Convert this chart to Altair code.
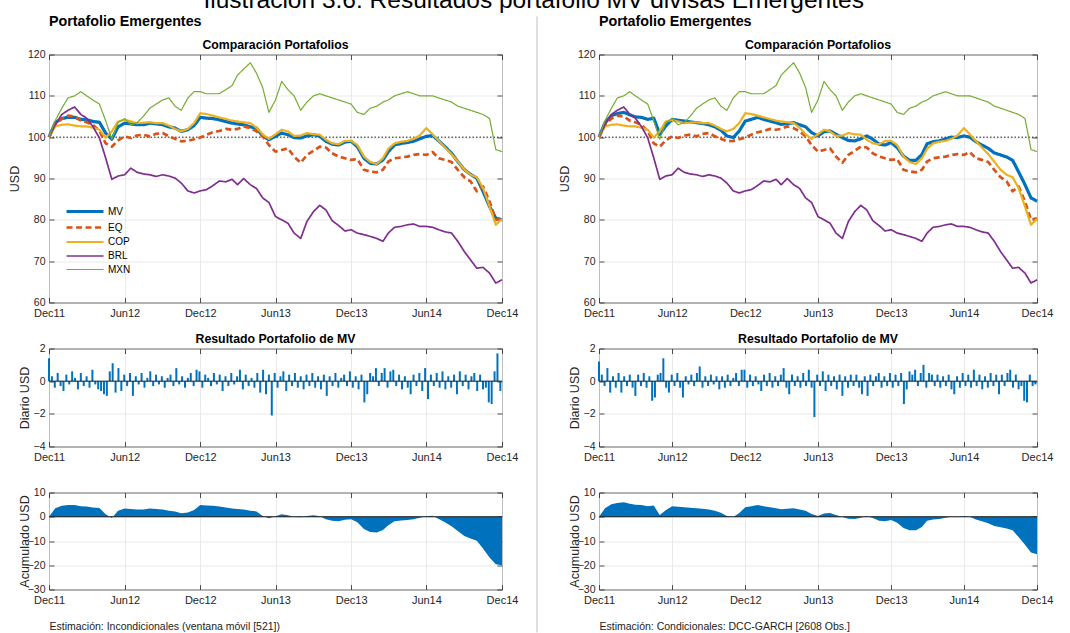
import altair as alt
import pandas as pd

# ---------------------------------------------------------------------------
# Datos
# ---------------------------------------------------------------------------
INICIO = "2011-12-01"
SERIES = ["MV", "EQ", "COP", "BRL", "MXN"]
COLORES = ["#0072BD", "#D95319", "#EDB120", "#7E2F8E", "#77AC30"]
ANCHOS = [3.2, 1.2, 1.2, 1.2, 1.2]
TRAZOS = [[1, 0], [6, 3.5], [1, 0], [1, 0], [1, 0]]
ETIQUETAS_X = [(2011, 12), (2012, 6), (2012, 12), (2013, 6), (2013, 12), (2014, 6), (2014, 12)]
NIVEL_BASE = [100]
NIVEL_CERO = [0]

# Valores quincenales (USD), Dic-2011 a Dic-2014
MV_INCOND = [
    100, 103.5, 104.5, 104.8, 104.8, 104.3, 104.2, 103.8, 103.6, 101, 99.5, 102.5,
    103.4, 103.2, 103, 103, 103.4, 103.2, 103, 102.5, 102.2, 101.4, 101.8, 102.8,
    104.8, 104.6, 104.5, 104.2, 103.8, 103.4, 103.2, 103, 102.5, 102.2, 100.3, 99.4,
    100.2, 101, 100.6, 99.9, 99.8, 100.3, 100.6, 100.2, 99, 98.3, 98.1, 98.8,
    99, 97.7, 94.9, 93.7, 93.5, 94.5, 96.5, 98.1, 98.5, 98.7, 99, 99.6,
    100.2, 100.4, 99.1, 97.7, 96.1, 94.1, 92.1, 91, 90.1, 86.9, 83.2, 80.4,
    80,
]
MV_COND = [
    100, 103.5, 105.2, 105.7, 106, 105.4, 104.9, 104.8, 104.3, 104.6, 100.7, 102.7,
    104.3, 104.1, 103.9, 103.7, 103.5, 103.3, 103, 102.5, 101.7, 100.3, 99.9, 101.5,
    103.9, 104.3, 104.8, 104.3, 103.9, 103.5, 103.1, 103.3, 103.5, 103, 102.5, 101.1,
    100.3, 101.3, 101.5, 100.7, 99.9, 99.2, 99.1, 99.6, 100.3, 99.5, 98.3, 98.1,
    98.7, 97.5, 95.4, 94.4, 94.4, 95.8, 98.4, 98.9, 99.1, 99.6, 100, 99.9,
    100.3, 100, 98.9, 98.1, 97.3, 96.2, 95.7, 95.2, 94.4, 91.6, 88.5, 85.3,
    84.5,
]
EQ = [
    100, 103, 104.5, 105.2, 105, 104, 103.6, 103, 101.5, 98.5, 97.7, 99.2,
    100.2, 99.8, 100.4, 100.6, 100.2, 100.8, 101, 100.2, 99.6, 99, 99.1, 99.5,
    99.9, 100.6, 101.2, 101.5, 102, 101.8, 102, 102.6, 102.2, 101.4, 100.2, 98.1,
    96.5, 96.9, 97.3, 95.3, 93.8, 95.7, 96.7, 97.7, 97.5, 96.1, 95.3, 94.9,
    94.5, 94.7, 92.1, 91.7, 91.5, 92.1, 94.1, 94.9, 95.1, 95.3, 95.7, 95.9,
    95.7, 96.4, 94.9, 94.5, 94, 92.1, 90.3, 89.3, 86.9, 88.1, 84.4, 80,
    80.4,
]
COP = [
    100, 102.6, 103, 103.1, 102.8, 102.6, 102.6, 102.3, 101.8, 99.9, 101.4, 103.8,
    104.2, 103.8, 103.4, 103.5, 103.6, 103.4, 103.4, 102.8, 102, 101.4, 102, 103.4,
    105.8, 105.6, 105.2, 104.8, 104.4, 104, 103.8, 103.6, 103.4, 102.3, 100.7, 99.6,
    100.7, 101.8, 101.4, 100.3, 100.4, 101, 100.7, 100.6, 99.4, 98.5, 98.3, 99.1,
    99.1, 98.1, 95.3, 94, 93.5, 94.9, 97.2, 98.5, 98.9, 99.1, 99.6, 100.4,
    102.2, 100.7, 99.1, 97.5, 95.9, 94.1, 92.1, 90.9, 90.3, 87.7, 83.2, 78.8,
    80.2,
]
BRL = [
    100, 103, 105.5, 106.5, 107.3, 105.5, 104.6, 102.6, 99.8, 95, 89.8, 90.6,
    90.9, 92.5, 91.5, 91.1, 90.9, 90.5, 90.9, 90.6, 90.1, 88.9, 87, 86.5,
    87, 87.3, 88.3, 89.4, 89.2, 89.8, 88.5, 90, 88.5, 87.6, 85.3, 84.2,
    80.8, 80, 79.2, 76.8, 75.5, 79.6, 82, 83.5, 82.4, 79.8, 78.6, 77.3,
    77.6, 76.8, 76.4, 76, 75.5, 74.8, 76.8, 78.2, 78.4, 78.8, 79, 78.4,
    78.4, 78.2, 77.6, 77.1, 76.8, 74.8, 72.3, 70.3, 68.3, 68.5, 67.1, 64.7,
    65.5,
]
MXN = [
    100, 104, 107, 109.5, 110, 111, 110, 109, 108, 104, 99.5, 103.5,
    104.5, 103, 103.5, 105, 107, 108, 109, 109.5, 107.5, 106.5, 109.5, 111,
    111, 110.5, 110.5, 110.5, 111.5, 112.5, 115, 116.5, 118, 115.5, 112, 106,
    109, 113.5, 111.5, 110, 106.5, 108.5, 110, 110.5, 110, 109.5, 109, 108.5,
    108, 106, 105.5, 107, 107.5, 108.5, 109, 110, 110.5, 111, 110.5, 110,
    110, 110, 109.5, 109, 108.5, 107.5, 107, 106.5, 106, 105.5, 104.5, 97,
    96.5,
]

# Resultado semanal del portafolio MV (USD)
DIARIO_INCOND = [
    1.4, 0.3, -0.4, 0.5, -0.3, -0.6, 0.4, -0.2, 0.6, 0.2, -0.5, 0.5, -0.3,
    0.3, -0.4, 0.7, -0.2, -0.5, -0.6, -0.8, -0.9, 0.6, 1.1, -0.7, 0.8, -0.6,
    0.4, -0.3, 0.5, -0.9, 0.3, -0.2, 0.5, -0.4, 0.2, 0.6, -0.3, 0.4, -0.2,
    0.3, -0.4, 0.2, 0.4, -0.3, 0.8, -0.2, 0.3, -0.4, 0.2, 0.5, -0.3, 0.7,
    0.6, -0.4, 0.4, 0.2, -0.3, 0.5, -0.2, 0.4, -0.6, 0.3, -0.3, 0.5, -0.2,
    0.3, 0.7, -0.5, 0.4, -0.3, 0.2, -0.4, 0.5, -0.7, 0.7, -0.8, 0.4, -2.1,
    0.5, -0.4, 0.3, 0.6, -0.6, 0.4, -0.3, 0.5, -0.4, 0.3, -0.5, 0.4, -0.3,
    0.5, -0.4, 0.3, -0.5, 0.4, -0.9, 0.3, -0.3, 0.5, -0.4, 0.2, 0.4, -0.3,
    0.6, -0.4, 0.3, -0.5, 0.4, -1.3, -0.8, 0.5, 0.3, 0.8, -0.3, 0.5, 0.8,
    -0.4, 0.6, 0.7, -0.3, 0.4, -0.5, 0.3, -0.4, -0.8, 0.4, -0.3, 0.5, -0.6,
    0.8, -1.1, 0.4, -0.3, 0.5, -0.4, 0.6, -0.5, 0.3, -0.4, 0.4, -0.8, 0.6,
    -0.3, 0.4, -0.5, 0.3, 0.5, -0.6, 0.4, -0.5, -0.4, -1.3, -1.4, 0.6, 1.7,
    -0.6,
]
DIARIO_COND = [
    1.2, 0.4, -0.3, 0.8, -0.7, 0.3, -0.4, 0.5, -0.7, 0.3, -0.3, 0.4, -0.4,
    -0.9, 0.4, -0.3, 0.5, -0.4, 0.3, -1.2, -1.0, 0.4, 0.5, 1.4, -0.4, -0.7,
    0.4, -0.3, 0.5, -0.4, -1.0, 0.3, -0.2, 0.4, -0.3, 0.5, 0.9, -0.4, 0.3,
    -0.3, 0.4, -0.2, 0.3, -0.5, 0.3, -0.4, 0.4, -0.3, 0.2, 0.5, -0.3, 0.7,
    0.7, -0.4, 0.4, -0.3, 0.3, -0.2, -0.6, 0.4, -0.3, 0.5, -0.4, 0.3, -0.3,
    0.4, 0.8, -0.4, -0.8, 0.4, -0.3, 0.3, -0.4, 0.5, -0.3, 0.7, -0.4, -2.2,
    0.4, -0.3, 0.6, -0.6, 0.4, -0.3, 0.3, -0.5, 0.4, -0.9, 0.3, -0.4, 0.4,
    -0.3, 0.4, -0.4, -0.8, 0.3, -0.9, 0.4, -0.3, 0.3, 0.5, -0.4, 0.3, -0.3,
    0.5, -0.4, 0.4, -0.3, 0.5, -1.4, -0.5, 0.6, 0.4, 0.7, -0.3, 0.5, 1.0,
    -0.4, 0.5, 0.4, -0.3, 0.4, -0.4, 0.3, -0.3, 0.4, -0.5, -0.8, 0.3, -0.4,
    0.5, -0.3, 0.4, -0.4, 0.7, -0.3, 0.4, -0.5, 0.3, -0.4, 0.5, -0.3, 0.4,
    -0.8, 0.4, -0.3, 0.5, 0.7, -0.4, 0.4, -0.5, -0.3, -1.2, -1.3, 0.4, -0.3,
    -0.2,
]

TITULO = "Ilustración 3.6: Resultados portafolio MV divisas Emergentes"
ENCABEZADO = "Portafolio Emergentes"
NOTA_INCOND = "Estimación: Incondicionales (ventana móvil [521])"
NOTA_COND = "Estimación: Condicionales: DCC-GARCH [2608 Obs.]"


def quincenas(n):
    fechas = []
    for i in range(n):
        k = i // 2
        anio = 2011 + (11 + k) // 12
        mes = (11 + k) % 12 + 1
        dia = 1 if i % 2 == 0 else 16
        fechas.append(f"{anio}-{mes:02d}-{dia:02d}")
    return fechas


FECHAS_Q = quincenas(len(EQ))
FECHAS_S = pd.date_range(INICIO, periods=len(DIARIO_INCOND), freq="7D").strftime("%Y-%m-%d").tolist()

AZUL = COLORES[0]
FECHAS_EJE = [alt.DateTime(year=a, month=m, date=1, utc=True) for a, m in ETIQUETAS_X]
ESCALA_X = alt.Scale(type="utc", domain=[FECHAS_EJE[0], FECHAS_EJE[-1]])
GRIS = "#262626"


def eje_abajo(**extra):
    p = dict(values=FECHAS_EJE, labelExpr="utcFormat(datum.value, '%b%y')", title=None,
             orient="bottom", tickSize=5, offset=-5, domain=False, grid=True,
             labelPadding=5, labelFlush=False, labelOverlap=False, labelFontSize=11)
    p.update(extra)
    return alt.Axis(**p)


def eje_izq(valores, titulo, pad):
    return alt.Axis(values=valores, title=titulo, orient="left", tickSize=5, offset=-5,
                    domain=False, grid=True, labelPadding=4, titlePadding=pad)


def capa_marcas(df, campo_y, valores_y, escala_y):
    # marcas de escala hacia adentro en los bordes superior y derecho
    return alt.Chart(df).mark_point(opacity=0).encode(
        x=alt.X("fecha:T", scale=ESCALA_X,
                axis=alt.Axis(values=FECHAS_EJE, orient="top", labels=False, tickSize=5,
                              offset=-5, domain=False, grid=False, title=None)),
        y=alt.Y(f"{campo_y}:Q", scale=escala_y,
                axis=alt.Axis(values=valores_y, orient="right", labels=False, tickSize=5,
                              offset=-5, domain=False, grid=False, title=None)),
    )


def titulo_panel(texto):
    return alt.Title(texto, fontSize=12.3, fontWeight="bold", color="black", offset=-2)


def panel_comparacion(mv, ancho):
    valores = {"MV": mv, "EQ": EQ, "COP": COP, "BRL": BRL, "MXN": MXN}
    df = pd.DataFrame([{"fecha": f, "serie": s, "valor": v}
                       for s in SERIES for f, v in zip(FECHAS_Q, valores[s])])
    esc_y = alt.Scale(domain=[60, 120], nice=False, zero=False)
    ticks_y = [60, 70, 80, 90, 100, 110, 120]
    leyenda = alt.Legend(title=None, orient="none", legendX=27, legendY=148, padding=0,
                         symbolType="M-2.55,0H2.55", symbolSize=210, labelOffset=14,
                         rowPadding=0, labelFontSize=10, labelColor="black")
    enc = dict(
        color=alt.Color("serie:N", scale=alt.Scale(domain=SERIES, range=COLORES), legend=leyenda),
        strokeDash=alt.StrokeDash("serie:N", scale=alt.Scale(domain=SERIES, range=TRAZOS), legend=leyenda),
        strokeWidth=alt.StrokeWidth("serie:N", scale=alt.Scale(domain=SERIES, range=ANCHOS), legend=leyenda),
    )
    ref = alt.Chart(pd.DataFrame({"nivel": NIVEL_BASE})).mark_rule(
        color="black", strokeDash=[1.5, 2], strokeWidth=0.9
    ).encode(y=alt.Y("nivel:Q", scale=esc_y, axis=None))
    capas = [ref]
    for i, s in enumerate(SERIES):
        x = alt.X("fecha:T", scale=ESCALA_X, axis=eje_abajo() if i == 0 else None)
        y = alt.Y("valor:Q", scale=esc_y, axis=eje_izq(ticks_y, "USD", 6) if i == 0 else None)
        capas.append(alt.Chart(df).transform_filter(alt.datum.serie == s)
                     .mark_line(strokeJoin="round").encode(x=x, y=y, **enc))
    capas.append(capa_marcas(df[df.serie == "MV"], "valor", ticks_y, esc_y))
    return (alt.layer(*capas)
            .resolve_axis(x="independent", y="independent")
            .properties(width=ancho, height=248, title=titulo_panel("Comparación Portafolios")))


def panel_diario(valores, ancho):
    df = pd.DataFrame({"fecha": FECHAS_S, "valor": valores})
    esc_y = alt.Scale(domain=[-4, 2], nice=False, zero=False)
    ticks_y = [-4, -2, 0, 2]
    barras = alt.Chart(df).mark_rule(color=AZUL, strokeWidth=2).encode(
        x=alt.X("fecha:T", scale=ESCALA_X, axis=eje_abajo()),
        y=alt.Y("valor:Q", scale=esc_y, axis=eje_izq(ticks_y, "Diario USD", 2)),
        y2=alt.datum(0),
    )
    cero = alt.Chart(pd.DataFrame({"nivel": NIVEL_CERO})).mark_rule(
        color="#1a1a1a", strokeWidth=1
    ).encode(y=alt.Y("nivel:Q", scale=esc_y, axis=None))
    return (alt.layer(barras, cero, capa_marcas(df, "valor", ticks_y, esc_y))
            .resolve_axis(x="independent", y="independent")
            .properties(width=ancho, height=98, title=titulo_panel("Resultado Portafolio de MV")))


def panel_acumulado(mv, nota, ancho):
    df = pd.DataFrame({"fecha": FECHAS_Q, "acum": [v - 100 for v in mv]})
    esc_y = alt.Scale(domain=[-30, 10], nice=False, zero=False)
    ticks_y = [-30, -20, -10, 0, 10]
    area = alt.Chart(df).mark_area(color=AZUL, opacity=1).encode(
        x=alt.X("fecha:T", scale=ESCALA_X,
                axis=eje_abajo(title=nota, titleAnchor="start", titleFontSize=10.5,
                               titlePadding=16, titleFontWeight="normal", titleColor="#222222")),
        y=alt.Y("acum:Q", scale=esc_y, axis=eje_izq(ticks_y, "Acumulado USD", -4)),
        y2=alt.datum(0),
    )
    cero = alt.Chart(pd.DataFrame({"nivel": NIVEL_CERO})).mark_rule(
        color="#1a1a1a", strokeWidth=1
    ).encode(y=alt.Y("nivel:Q", scale=esc_y, axis=None))
    return (alt.layer(area, cero, capa_marcas(df, "acum", ticks_y, esc_y))
            .resolve_axis(x="independent", y="independent")
            .properties(width=ancho, height=97))


def columna(mv, diario, nota, ancho):
    return alt.vconcat(
        panel_comparacion(mv, ancho),
        panel_diario(diario, ancho),
        panel_acumulado(mv, nota, ancho),
        spacing=46,
        bounds="flush",
        title=alt.Title(ENCABEZADO, anchor="start", frame="group", fontSize=14.3,
                        fontWeight="bold", color="black", offset=9),
    )


divisor = alt.Chart(pd.DataFrame({"nivel": NIVEL_CERO})).mark_rule(
    color="#d4d4d4", strokeWidth=1.5
).encode(x=alt.value(1), y=alt.value(-38), y2=alt.value(578)).properties(
    width=4, height=540, view=alt.ViewBackground(stroke=None)
)

chart = alt.hconcat(
    columna(MV_INCOND, DIARIO_INCOND, NOTA_INCOND, 453),
    divisor,
    columna(MV_COND, DIARIO_COND, NOTA_COND, 438),
    spacing=17,
    title=alt.Title(TITULO, fontSize=24.5, fontWeight="normal", color="black",
                    anchor="middle", offset=2, dx=3),
).properties(
    padding={"left": 7, "top": -12.5, "right": 0, "bottom": 0},
).configure(
    font="Liberation Sans",
).configure_view(
    stroke=GRIS, strokeWidth=1,
).configure_axis(
    labelFontSize=10.5, labelColor=GRIS, tickColor=GRIS, tickWidth=0.8,
    gridColor="#e4e4e4", gridWidth=0.8,
    titleFontSize=12.5, titleFontWeight="normal", titleColor=GRIS,
)

chart.save("out.html", embed_options={"renderer": "svg", "actions": False})
